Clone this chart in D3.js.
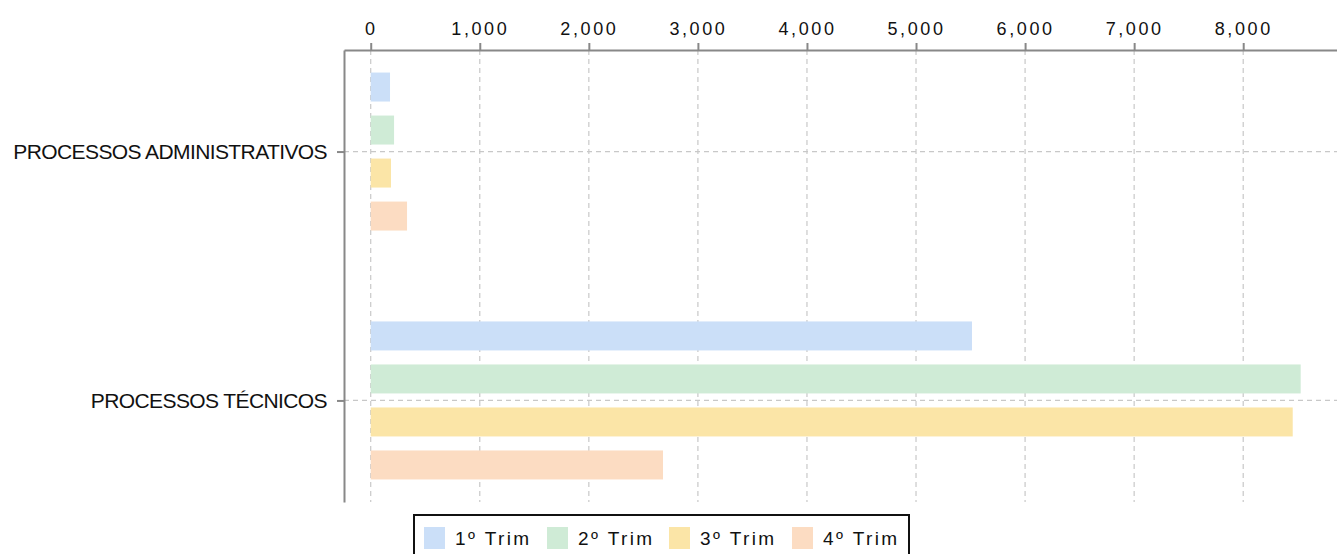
<!DOCTYPE html>
<html>
<head>
<meta charset="utf-8">
<script src="https://cdn.jsdelivr.net/npm/d3@7"></script>
<style>
  html, body { margin: 0; padding: 0; background: #fff; }
  .chart { width: 1337px; height: 554px; overflow: hidden; }
  text { font-family: "Liberation Sans", Arial, sans-serif; fill: #111; }
</style>
</head>
<body>
<div class="chart"></div>
<script>
// dados
const categories = ['PROCESSOS ADMINISTRATIVOS', 'PROCESSOS TÉCNICOS']
const seriesNames = ['1º Trim', '2º Trim', '3º Trim', '4º Trim']
const trim1 = [177, 5513]
const trim2 = [214, 8527]
const trim3 = [186, 8454]
const trim4 = [333, 2680]
const xTicks = [0, 1000, 2000, 3000, 4000, 5000, 6000, 7000, 8000]
const colors = ['#cbdff8', '#cfebd6', '#fbe5a7', '#fcdcc2']

const seriesValues = [trim1, trim2, trim3, trim4]

const width = 1337
const height = 554
const plot = {left: 344, right: 1337, top: 50, bottom: 502}

const svg = d3.select('.chart')
  .append('svg')
    .attr('width', width)
    .attr('height', height)

// escalas
const x = d3.scaleLinear()
  .domain([-245, 8860])
  .range([plot.left, plot.right])

const y = d3.scalePoint()
  .domain(categories)
  .range([plot.top, plot.bottom])
  .padding(0.408)

const ySub = d3.scaleBand()
  .domain(seriesNames)
  .range([-79, 79])
  .paddingInner(0.326)
  .paddingOuter(0)

// grelha tracejada
const grid = svg.append('g')
grid.selectAll('.vgrid')
  .data(xTicks)
  .enter()
  .append('line')
    .attr('x1', d => x(d)).attr('x2', d => x(d))
    .attr('y1', plot.top).attr('y2', plot.bottom)
grid.selectAll('.hgrid')
  .data(categories)
  .enter()
  .append('line')
    .attr('x1', plot.left).attr('x2', plot.right)
    .attr('y1', d => y(d)).attr('y2', d => y(d))
grid.selectAll('line')
  .attr('stroke', '#c8c8c8')
  .attr('stroke-width', 1.2)
  .attr('stroke-dasharray', '5,4')

// barras
const rows = []
categories.forEach((c, ci) => {
  seriesNames.forEach((s, si) => {
    rows.push({cat: c, series: s, value: seriesValues[si][ci], color: colors[si]})
  })
})

svg.append('g')
  .selectAll('rect')
  .data(rows)
  .enter()
  .append('rect')
    .attr('x', x(0))
    .attr('y', d => y(d.cat) + ySub(d.series))
    .attr('width', d => x(d.value) - x(0))
    .attr('height', ySub.bandwidth())
    .attr('fill', d => d.color)

// eixos
const xAxis = svg.append('g')
  .attr('transform', `translate(0, ${plot.top})`)
  .call(d3.axisTop(x).tickValues(xTicks).tickFormat(d3.format(',')).tickSize(7).tickSizeOuter(0).tickPadding(8))
xAxis.selectAll('text')
  .style('font-size', '18px')
  .style('letter-spacing', '2.6px')
  .style('fill', '#111')

const yAxis = svg.append('g')
  .attr('transform', `translate(${plot.left}, 0)`)
  .call(d3.axisLeft(y).tickSize(7).tickSizeOuter(0).tickPadding(10))
yAxis.selectAll('text')
  .style('font-size', '21px')
  .style('letter-spacing', '-0.6px')
  .style('fill', '#111')

svg.selectAll('.domain, .tick line')
  .attr('stroke', '#888')
  .attr('stroke-width', 2)

// legenda
const legend = svg.append('g')
  .attr('transform', 'translate(414, 515)')

legend.append('rect')
  .attr('width', 495)
  .attr('height', 48)
  .attr('fill', '#fff')
  .attr('stroke', '#111')
  .attr('stroke-width', 2)

const legendX = [10, 133, 255, 378]
const item = legend.selectAll('.item')
  .data(seriesNames)
  .enter()
  .append('g')
    .attr('transform', (d, i) => `translate(${legendX[i]}, 12)`)

item.append('rect')
  .attr('width', 21)
  .attr('height', 22)
  .attr('fill', (d, i) => colors[i])

item.append('text')
  .attr('x', 31)
  .attr('y', 18)
  .style('font-size', '19px')
  .style('letter-spacing', '2.4px')
  .text(d => d)
</script>
</body>
</html>
